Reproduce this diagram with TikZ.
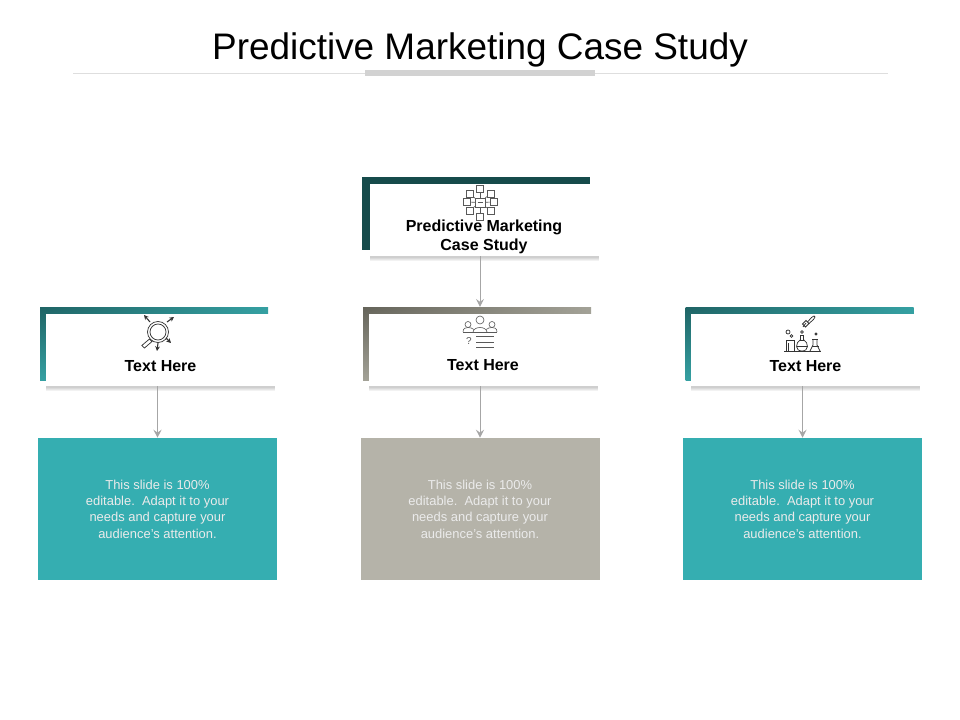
\documentclass[tikz,border=0pt]{standalone}
\usepackage{fontspec}
\setmainfont{Liberation Sans}
\usepackage{xcolor}
\usetikzlibrary{shadows,shadings,arrows.meta}
\definecolor{tealbox}{HTML}{35AEB1}
\definecolor{tealdark}{HTML}{1F6465}
\definecolor{tealmid}{HTML}{35A0A2}
\definecolor{stonebox}{HTML}{B5B3A9}
\definecolor{stonedark}{HTML}{65645A}
\definecolor{stonemid}{HTML}{A3A297}
\definecolor{pinedark}{HTML}{164B4B}
\definecolor{ruleline}{HTML}{DEDEDE}
\definecolor{rulebar}{HTML}{D2D2D2}
\definecolor{linkgray}{HTML}{A6A6A6}
\tikzset{
  accent/.style={minimum width=171pt,minimum height=54.75pt,inner sep=0pt},
  softshadow/.style={shadow xshift=0pt,shadow yshift=#1,fill=black,opacity=0.05,shadow scale=1},
  card/.style={fill=white,minimum width=171.75pt,minimum height=54pt,inner sep=0pt,
    drop shadow={softshadow=-3.6pt},drop shadow={softshadow=-2.8pt},
    drop shadow={softshadow=-2pt},drop shadow={softshadow=-1.2pt}},
  cardtext/.style={font=\fontsize{12}{14.25}\selectfont\bfseries,align=center,inner sep=0pt},
  bodybox/.style={minimum width=179.25pt,minimum height=106.5pt,inner sep=0pt,text=white!92!black,
    align=center,font=\fontsize{9.7}{12.3}\selectfont},
  link/.style={draw=linkgray,line width=0.75pt,-{Stealth[length=6pt,width=6pt,inset=2.2pt]}},
  icon/.style={draw=black!80,line width=0.55pt},
  iconthin/.style={draw=black!65,line width=0.45pt},
}
\newcommand{\bodytext}{This slide is 100\%\\editable.\ \ Adapt it to your\\needs and capture your\\audience's attention.}

\begin{document}
\begin{tikzpicture}[x=0.75pt,y=-0.75pt]
\useasboundingbox (0,0) rectangle (960,720);

% Title
\node[font=\fontsize{27.7}{32}\selectfont,inner sep=0pt] (title) at (480,50) {Predictive Marketing Case Study};
\draw[ruleline,line width=0.6pt] (73,73) -- (888,73);
\fill[rulebar] (365,70) rectangle (595,76);

% Top card
\node[accent,fill=pinedark] (accenttop) at (476,213.7) {};
\node[card] (cardtop) at (484,220) {};
\node[cardtext] (labeltop) at (484,236.5) {Predictive Marketing\\Case Study};

% Columns
\foreach \col/\ax/\cx/\bx/\ly/\dark/\light/\fillc in {left/154/160.5/157.5/366/tealdark/tealmid/tealbox,mid/477/483/480/365/stonedark/stonemid/stonebox,right/799.5/805.5/802.5/366/tealdark/tealmid/tealbox}
{
    \node[accent,upper left=\dark,upper right=\light,lower left=\light,lower right=\light] (accent\col) at (\ax,343.7) {};
    \node[card] (card\col) at (\cx,350) {};
    \node[cardtext] (label\col) at (\cx,\ly) {Text Here};
    \node[bodybox,fill=\fillc] (box\col) at (\bx,509) {\bodytext};
    \draw[link] (card\col.south -| box\col.north) -- (box\col.north);
}
\draw[link] (cardtop.south -| boxmid.north) -- (accentmid.north -| boxmid.north);

% Network icon
\foreach \x/\y in {480/188.5,480/217,466.5/202,493.5/202,469.5/193.5,490.5/193.5,469.5/210.5,490.5/210.5}
{
    \draw[iconthin] (480,202.5) -- (\x,\y);
    \draw[iconthin,fill=white] (\x-3.4,\y-3.4) rectangle (\x+3.4,\y+3.4);
}
\draw[iconthin,fill=white] (475,198) rectangle (485,207);
\draw[iconthin,line width=0.3pt] (477.5,202.5) -- (482.5,202.5);

% Magnifier icon
\draw[icon] (158,332) circle (10.5);
\draw[icon] (158,332) circle (8);
\draw[icon] (149.5,339) -- (152,341.5) -- (144.5,348) -- (141.8,345.5) -- cycle;
\foreach \a/\b/\c/\d in {150/322/144/315,167/322/174/317,166/338/171/343,158/343/157/351}
{
    \draw[icon,line width=0.8pt,-{Stealth[length=3.5pt,width=3.5pt]}] (\a,\b) -- (\c,\d);
}

% People icon
\draw[iconthin] (480,320) circle (4);
\draw[iconthin] (468,324.5) circle (3);
\draw[iconthin] (492,324.5) circle (3);
\draw[iconthin] (473,332) .. controls (474,326) and (486,326) .. (487,332);
\draw[iconthin] (463,332) .. controls (463,328) and (466,327.5) .. (468,327.5) .. controls (470,327.5) and (472,328) .. (474,329.5);
\draw[iconthin] (497,332) .. controls (497,328) and (494,327.5) .. (492,327.5) .. controls (490,327.5) and (488,328) .. (486,329.5);
\draw[iconthin] (463,332) -- (497,332);
\node[font=\fontsize{7.5}{8}\selectfont,text=black!65,inner sep=0pt] (qmark) at (469,341) {?};
\foreach \y in {336,342,347.5}
{
    \draw[iconthin] (476,\y) -- (494,\y);
}

% Lab icon
\draw[icon] (784,351) -- (821,351);
\draw[icon] (794,351) -- (794,340) -- (786,340) -- (786,351);
\draw[icon] (788,343) -- (788,351);
\draw[icon] (800,340) -- (804,340);
\draw[icon] (800.5,335.5) -- (800.5,339.5) .. controls (795,343) and (795,351) .. (802,351) .. controls (809,351) and (809,343) .. (803.5,339.5) -- (803.5,335.5) -- cycle;
\draw[icon] (796.5,346) -- (807.5,346);
\draw[icon] (813,339) -- (813,345) -- (810,351);
\draw[icon] (817,339) -- (817,345) -- (820,351);
\draw[icon] (812,339) -- (818,339);
\draw[icon] (811.5,346.5) -- (818.5,346.5);
\draw[icon] (788,332) circle (2);
\draw[icon] (791.5,336) circle (1.3);
\draw[icon,fill=black!60] (816,334) circle (1.2);
\draw[icon] (802,332) circle (1.4);
\draw[icon] (803,327) -- (806,323);
\draw[icon] (806,320.5) -- (809,323.5) -- (805.5,327) -- (802.5,324) -- cycle;
\draw[icon] (807.5,322) -- (811.5,317.5) -- (814,316) -- (815,317) -- (813.5,319.5) -- (809,323.5);

\end{tikzpicture}
\end{document}
